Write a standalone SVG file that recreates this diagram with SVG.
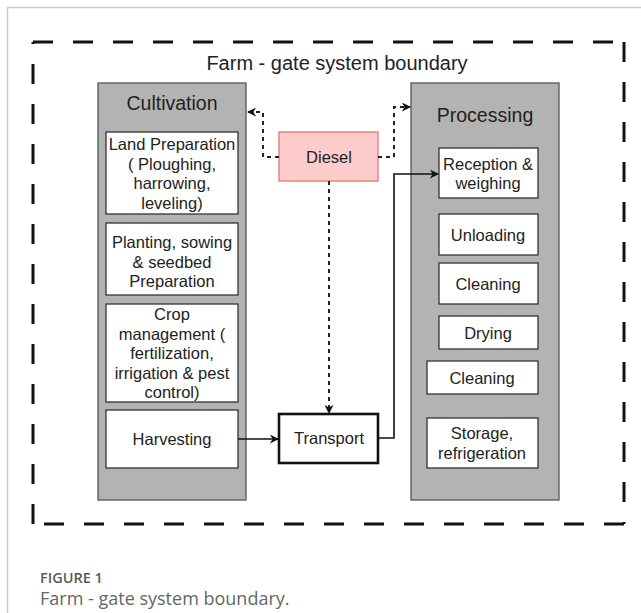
<svg xmlns="http://www.w3.org/2000/svg" width="641" height="613" viewBox="0 0 641 613">
  <style>
    .lbl { font-family: "Liberation Sans", Arial, sans-serif; fill: #222; text-anchor: middle; }
    .step { fill: #ffffff; stroke: #333333; stroke-width: 1.3; }
    .stage { fill: #b3b3b3; stroke: #555555; stroke-width: 1.3; }
    .bound { fill: none; stroke: #111; stroke-width: 3; stroke-dasharray: 20 20; }
    .fuel { fill: none; stroke: #222; stroke-width: 2; stroke-dasharray: 4 4; }
    .flow { fill: none; stroke: #111; stroke-width: 1.6; }
    .cap { font-family: "Open Sans", "Noto Sans", sans-serif; }
  </style>
  <defs>
    <marker id="arrow" viewBox="0 0 10 10" refX="9" refY="5" markerWidth="9" markerHeight="9" markerUnits="userSpaceOnUse" orient="auto">
      <path d="M0,0 L10,5 L0,10 L3,5 Z" fill="#111"/>
    </marker>
  </defs>
  <rect width="641" height="613" fill="#ffffff"/>
  <!-- page frame -->
  <path d="M641,7.5 H7.5 V613" fill="none" stroke="#cccccc" stroke-width="1.5"/>

  <!-- system boundary -->
  <g id="boundary">
    <path class="bound" d="M33,42 H624"/>
    <path class="bound" d="M624,42 V524"/>
    <path class="bound" d="M624,524 H33"/>
    <path class="bound" d="M33,524 V42"/>
    <text class="lbl" x="337" y="70" font-size="20">Farm - gate system boundary</text>
  </g>

  <!-- cultivation stage -->
  <g id="cultivation">
    <rect class="stage" x="98" y="83" width="148" height="417"/>
    <text class="lbl" x="172" y="110" font-size="19.5">Cultivation</text>
  </g>
  <g id="land-preparation">
    <rect class="step" x="106" y="132" width="132" height="82"/>
    <text class="lbl" font-size="16.5"><tspan x="172" y="150">Land Preparation</tspan><tspan x="172" y="170">( Ploughing,</tspan><tspan x="172" y="189">harrowing,</tspan><tspan x="172" y="209">leveling)</tspan></text>
  </g>
  <g id="planting">
    <rect class="step" x="106" y="223" width="132" height="72"/>
    <text class="lbl" font-size="16.5"><tspan x="172" y="248">Planting, sowing</tspan><tspan x="172" y="268">&amp; seedbed</tspan><tspan x="172" y="287">Preparation</tspan></text>
  </g>
  <g id="crop-management">
    <rect class="step" x="106" y="304" width="132" height="98"/>
    <text class="lbl" font-size="16.5"><tspan x="172" y="320">Crop</tspan><tspan x="172" y="340">management (</tspan><tspan x="172" y="359">fertilization,</tspan><tspan x="172" y="379">irrigation &amp; pest</tspan><tspan x="172" y="398">control)</tspan></text>
  </g>
  <g id="harvesting">
    <rect class="step" x="106" y="410" width="132" height="58"/>
    <text class="lbl" x="172" y="445" font-size="16.5">Harvesting</text>
  </g>

  <!-- fuel input -->
  <g id="diesel">
    <rect x="279" y="132" width="99" height="49" fill="#ffcccc" stroke="#e57373" stroke-width="1.3"/>
    <text class="lbl" x="329" y="163" font-size="16.5">Diesel</text>
  </g>

  <!-- transport -->
  <g id="transport">
    <rect x="279" y="414" width="99" height="49" fill="#ffffff" stroke="#111" stroke-width="2.6"/>
    <text class="lbl" x="329" y="444" font-size="16.5">Transport</text>
  </g>

  <!-- processing stage -->
  <g id="processing">
    <rect class="stage" x="411" y="83" width="148" height="417"/>
    <text class="lbl" x="485" y="122" font-size="19.5">Processing</text>
  </g>
  <g id="reception">
    <rect class="step" x="439" y="148" width="99" height="50"/>
    <text class="lbl" font-size="16.5"><tspan x="488" y="170">Reception &amp;</tspan><tspan x="488" y="189">weighing</tspan></text>
  </g>
  <g id="unloading">
    <rect class="step" x="439" y="214" width="99" height="41"/>
    <text class="lbl" x="488" y="241" font-size="16.5">Unloading</text>
  </g>
  <g id="cleaning-1">
    <rect class="step" x="439" y="263" width="99" height="41"/>
    <text class="lbl" x="488" y="290" font-size="16.5">Cleaning</text>
  </g>
  <g id="drying">
    <rect class="step" x="439" y="316" width="99" height="33"/>
    <text class="lbl" x="488" y="339" font-size="16.5">Drying</text>
  </g>
  <g id="cleaning-2">
    <rect class="step" x="427" y="361" width="111" height="33"/>
    <text class="lbl" x="482" y="384" font-size="16.5">Cleaning</text>
  </g>
  <g id="storage">
    <rect class="step" x="427" y="418" width="111" height="50"/>
    <text class="lbl" font-size="16.5"><tspan x="482" y="439">Storage,</tspan><tspan x="482" y="459">refrigeration</tspan></text>
  </g>

  <!-- connectors -->
  <g id="connectors">
    <path class="fuel" d="M279,157 H263 V112 H248" marker-end="url(#arrow)"/>
    <path class="fuel" d="M378,157 H394 V107 H410" marker-end="url(#arrow)"/>
    <path class="fuel" d="M329,181 V413" marker-end="url(#arrow)"/>
    <path class="flow" d="M238,439 H278" marker-end="url(#arrow)"/>
    <path class="flow" d="M378,438 H394 V174 H438" marker-end="url(#arrow)"/>
  </g>

  <!-- caption -->
  <g id="caption">
    <text class="cap" x="40" y="583" font-size="14.5" font-weight="600" fill="#5a5a5a">FIGURE 1</text>
    <text class="cap" x="40" y="605" font-size="18" fill="#666666">Farm - gate system boundary.</text>
  </g>
</svg>
